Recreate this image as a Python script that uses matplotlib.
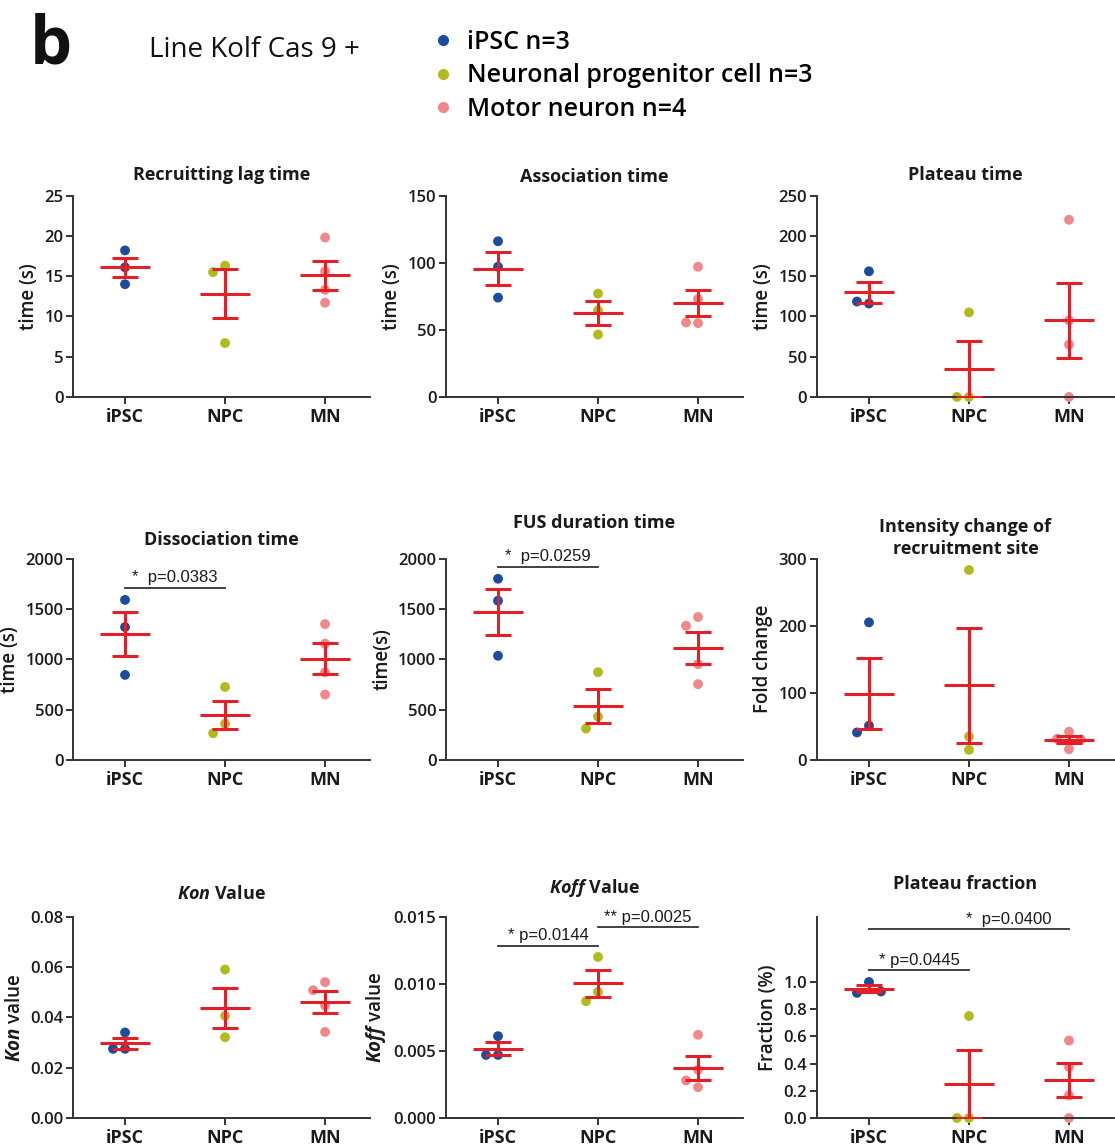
import numpy as np
import matplotlib
matplotlib.use("Agg")
import matplotlib.pyplot as plt
from matplotlib.lines import Line2D

plt.rcParams['font.family'] = ['Open Sans', 'DejaVu Sans']
plt.rcParams['mathtext.fontset'] = 'custom'
plt.rcParams['mathtext.it'] = 'Open Sans:italic:bold'

#----------------------------------------------------- data
groups = ["iPSC", "NPC", "MN"]
legend_labels = ["iPSC n=3", "Neuronal progenitor cell n=3", "Motor neuron n=4"]
group_colors = ["#1b4c9e", "#b2bb1e", "#f0888a"]

lag_ipsc = [18.2, 16.1, 14.0]
lag_npc = [16.3, 15.5, 6.7]
lag_mn = [19.8, 15.6, 13.3, 11.7]

assoc_ipsc = [116, 97, 74]
assoc_npc = [77, 64.5, 46.5]
assoc_mn = [97, 73, 55, 55.5]

plat_ipsc = [156, 116, 118.5]
plat_npc = [105, 0, 0]
plat_mn = [220, 95, 65, 0]

dissoc_ipsc = [1590, 1320, 845]
dissoc_npc = [725, 360, 265]
dissoc_mn = [1350, 1155, 870, 650]

fus_ipsc = [1800, 1582, 1035]
fus_npc = [872, 431, 312]
fus_mn = [1420, 1333, 952, 753]

inten_ipsc = [205, 51, 41]
inten_npc = [283, 35, 15]
inten_mn = [42, 31.5, 30.5, 16]

kon_ipsc = [0.0340, 0.0275, 0.0275]
kon_npc = [0.0590, 0.0406, 0.0321]
kon_mn = [0.0540, 0.0508, 0.0447, 0.0342]

koff_ipsc = [0.0061, 0.0047, 0.0047]
koff_npc = [0.0120, 0.0094, 0.0087]
koff_mn = [0.0062, 0.0036, 0.0028, 0.0023]

frac_ipsc = [1.0, 0.92, 0.93]
frac_npc = [0.75, 0, 0]
frac_mn = [0.57, 0.375, 0.165, 0]

# (title, ylabel, data, yticks, ylim top, significance bars)
panels = [
    ("Recruitting lag time", "time (s)", [lag_ipsc, lag_npc, lag_mn], [0, 5, 10, 15, 20, 25], 25, []),
    ("Association time", "time (s)", [assoc_ipsc, assoc_npc, assoc_mn], [0, 50, 100, 150], 150, []),
    ("Plateau time", "time (s)", [plat_ipsc, plat_npc, plat_mn], [0, 50, 100, 150, 200, 250], 250, []),
    ("Dissociation time", "time (s)", [dissoc_ipsc, dissoc_npc, dissoc_mn], [0, 500, 1000, 1500, 2000], 2000,
     [(0, 1, 1710, "*  p=0.0383", 0.5)]),
    ("FUS duration time", "time(s)", [fus_ipsc, fus_npc, fus_mn], [0, 500, 1000, 1500, 2000], 2000,
     [(0, 1, 1915, "*  p=0.0259", 0.5)]),
    ("Intensity change of\nrecruitment site", "Fold change", [inten_ipsc, inten_npc, inten_mn], [0, 100, 200, 300], 300, []),
    ("$Kon$ Value", "$Kon$ value", [kon_ipsc, kon_npc, kon_mn], [0.00, 0.02, 0.04, 0.06, 0.08], 0.08, []),
    ("$Koff$ Value", "$Koff$ value", [koff_ipsc, koff_npc, koff_mn], [0.000, 0.005, 0.010, 0.015], 0.015,
     [(0, 1, 0.0128, "* p=0.0144", 0.5), (1, 2, 0.0142, "** p=0.0025", 0.5)]),
    ("Plateau fraction", "Fraction (%)", [frac_ipsc, frac_npc, frac_mn], [0.0, 0.2, 0.4, 0.6, 0.8, 1.0], 1.48,
     [(0, 1, 1.085, "* p=0.0445", 0.5), (0, 2, 1.387, "*  p=0.0400", 0.7)]),
]
tick_fmt = ["%d", "%d", "%d", "%d", "%d", "%d", "%.2f", "%.3f", "%.1f"]
title_pad = [11, 10, 11, 10, 22, 3, 13, 17, 20]

RED = "#e41f26"
AX = "#333333"

def swarm_offsets(ax, xc, vals, thr=12.0, step=12.0):
    # greedy beeswarm in pixel space, then back to data units
    tr = ax.transData
    x0 = tr.transform((xc, 0))[0]
    dx = tr.transform((xc + 1, 0))[0] - x0
    placed = []
    xs = []
    for v in vals:
        py = tr.transform((xc, v))[1]
        for k in [0, -1, 1, -2, 2, -3, 3]:
            px = x0 + k * step
            if all(np.hypot(px - qx, py - qy) >= thr for qx, qy in placed):
                break
        placed.append((px, py))
        xs.append(xc + k * step / dx)
    return xs

fig = plt.figure(figsize=(11.15, 11.44), dpi=100)

lefts = [0.0655, 0.400, 0.7327]
bottoms = [0.653, 0.3357, 0.0227]
W, H = 0.2664, 0.176

for idx, (title, ylab, data, yticks, ytop, sig) in enumerate(panels):
    r, c = divmod(idx, 3)
    ax = fig.add_axes([lefts[c], bottoms[r], W, H])
    ax.set_xlim(-0.52, 2.45)
    ax.set_ylim(0, ytop)
    for sp in ["top", "right"]:
        ax.spines[sp].set_visible(False)
    for sp in ["left", "bottom"]:
        ax.spines[sp].set_color(AX)
        ax.spines[sp].set_linewidth(1.4)
    ax.set_xticks(range(len(groups)))
    ax.set_xticklabels(groups, fontsize=13, fontweight="bold", color="#1a1a1a")
    ax.set_yticks(yticks)
    ax.set_yticklabels([tick_fmt[idx] % t for t in yticks], fontsize=12, fontweight="semibold", color="#1a1a1a")
    ax.tick_params(axis="both", colors=AX, width=1.4, length=5)
    ax.tick_params(axis="x", pad=3, labelcolor="#1a1a1a")
    ax.tick_params(axis="y", pad=2, labelcolor="#1a1a1a")
    ax.set_title(title, fontsize=13, fontweight="bold", color="#1a1a1a", pad=title_pad[idx], linespacing=1.3)
    ax.set_ylabel(ylab, fontsize=13.5, fontweight="semibold", color="#1a1a1a", labelpad=4)

    for g, vals in enumerate(data):
        xs = swarm_offsets(ax, g, vals)
        ax.scatter(xs, vals, s=50, color=group_colors[g], edgecolors="none", zorder=2, clip_on=False)
        m = np.mean(vals)
        sem = np.std(vals, ddof=1) / np.sqrt(len(vals))
        ax.hlines(m, g - 0.25, g + 0.25, color=RED, linewidth=2.2, zorder=3)
        ax.errorbar(g, m, yerr=sem, fmt="none", ecolor=RED, elinewidth=2.2,
                    capsize=9.5, capthick=2.2, zorder=3)

    for i, j, y, label, frac in sig:
        ax.plot([i, j], [y, y], color=AX, linewidth=1.3, clip_on=False)
        ax.annotate(label, xy=(i + (j - i) * frac, y), xytext=(0, 2), textcoords="offset points",
                    ha="center", va="bottom", fontsize=12, family="Liberation Sans", color="#1a1a1a")

# header
fig.text(0.027, 1 - 63 / 1144, "b", fontsize=48, fontweight="bold", color="#111111", va="baseline")
fig.text(0.134, 1 - 57 / 1144, "Line Kolf Cas 9 +", fontsize=20, color="#111111", va="baseline")
handles = [Line2D([], [], linestyle="none", marker="o", markersize=7, color=col) for col in group_colors]
fig.legend(handles, legend_labels, loc="upper left", bbox_to_anchor=(0.3706, 0.9895), frameon=False,
           prop={"size": 18, "weight": "semibold"}, handletextpad=0.45, labelspacing=0.35,
           handlelength=1.0, borderpad=0.2)

fig.savefig("out.png", dpi=100)
